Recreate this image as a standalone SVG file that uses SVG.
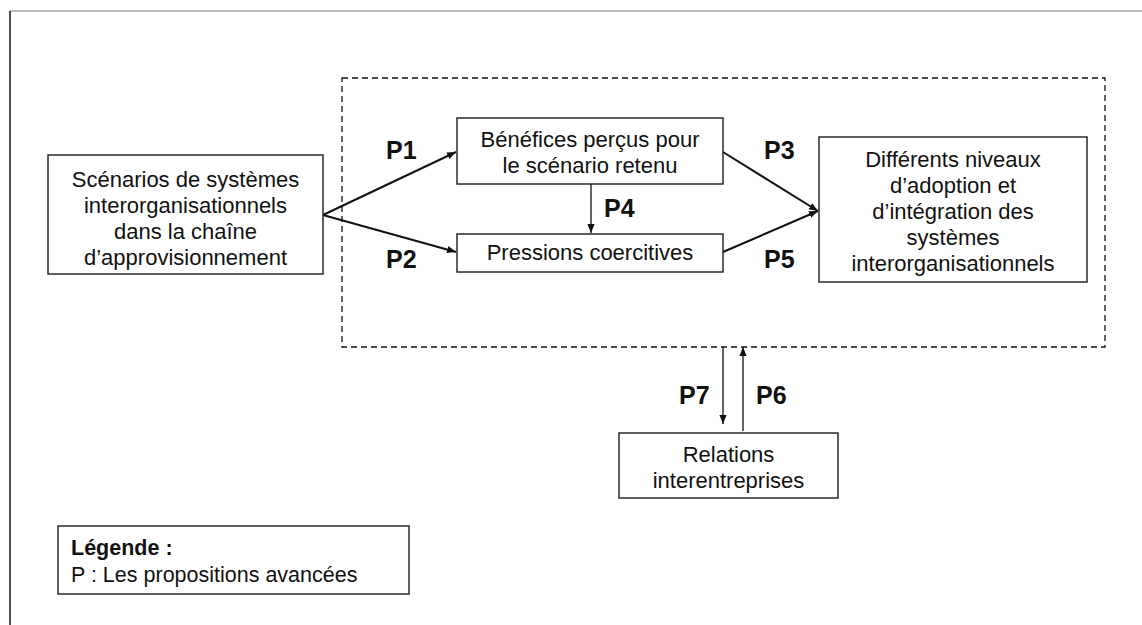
<svg xmlns="http://www.w3.org/2000/svg" width="1142" height="625" viewBox="0 0 1142 625">
  <style>
    .box { fill: #fff; stroke: #1a1a1a; stroke-width: 1.4; }
    .txt { font-family: "Liberation Sans", Arial, sans-serif; font-size: 22px; fill: #111; text-anchor: middle; }
    .lbl { font-family: "Liberation Sans", Arial, sans-serif; font-size: 25px; font-weight: bold; fill: #111; }
    .leg { font-family: "Liberation Sans", Arial, sans-serif; font-size: 21.5px; fill: #111; }
    .thick { stroke: #111; stroke-width: 2; fill: none; }
    .thin { stroke: #111; stroke-width: 1.3; fill: none; }
  </style>
  <defs>
    <marker id="ah" viewBox="0 0 10 10" refX="10" refY="5" markerWidth="9" markerHeight="9" markerUnits="userSpaceOnUse" orient="auto">
      <path d="M0,1 L10,5 L0,9 Z" fill="#111"/>
    </marker>
  </defs>

  <rect width="1142" height="625" fill="#fff"/>

  <!-- page frame -->
  <g id="frame">
    <line x1="10" y1="11" x2="1142" y2="11" stroke="#777" stroke-width="1.2"/>
    <line x1="10" y1="11" x2="10" y2="625" stroke="#222" stroke-width="1.6"/>
  </g>

  <!-- dashed boundary around the core model -->
  <rect id="scope" x="342" y="78" width="763" height="269" fill="none" stroke="#111" stroke-width="1.3" stroke-dasharray="6,4"/>

  <g id="connectors">
    <line class="thick" x1="323" y1="215" x2="456" y2="152" marker-end="url(#ah)"/>
    <line class="thick" x1="323" y1="215" x2="456" y2="252" marker-end="url(#ah)"/>
    <line class="thin" x1="591" y1="184" x2="591" y2="233" marker-end="url(#ah)"/>
    <line class="thick" x1="723" y1="152" x2="818" y2="211" marker-end="url(#ah)"/>
    <line class="thick" x1="723" y1="252" x2="818" y2="211" marker-end="url(#ah)"/>
    <line class="thin" x1="723" y1="347" x2="723" y2="424" marker-end="url(#ah)"/>
    <line class="thin" x1="743" y1="431" x2="743" y2="347" marker-end="url(#ah)"/>
  </g>

  <g id="labels">
    <text class="lbl" x="386" y="159">P1</text>
    <text class="lbl" x="386" y="268">P2</text>
    <text class="lbl" x="764" y="159">P3</text>
    <text class="lbl" x="604" y="217">P4</text>
    <text class="lbl" x="764" y="268">P5</text>
    <text class="lbl" x="756" y="404">P6</text>
    <text class="lbl" x="679" y="404">P7</text>
  </g>

  <g id="scenarios">
    <rect class="box" x="48" y="155" width="275" height="119"/>
    <text class="txt" x="185.5" y="187">Scénarios de systèmes</text>
    <text class="txt" x="185.5" y="213">interorganisationnels</text>
    <text class="txt" x="185.5" y="239">dans la chaîne</text>
    <text class="txt" x="185.5" y="265">d’approvisionnement</text>
  </g>

  <g id="benefices">
    <rect class="box" x="457" y="118" width="266" height="66"/>
    <text class="txt" x="590" y="147">Bénéfices perçus pour</text>
    <text class="txt" x="590" y="173">le scénario retenu</text>
  </g>

  <g id="pressions">
    <rect class="box" x="457" y="234" width="266" height="38"/>
    <text class="txt" x="590" y="260">Pressions coercitives</text>
  </g>

  <g id="niveaux">
    <rect class="box" x="819" y="137" width="268" height="145"/>
    <text class="txt" x="953" y="167">Différents niveaux</text>
    <text class="txt" x="953" y="193">d’adoption et</text>
    <text class="txt" x="953" y="219">d’intégration des</text>
    <text class="txt" x="953" y="245">systèmes</text>
    <text class="txt" x="953" y="271">interorganisationnels</text>
  </g>

  <g id="relations">
    <rect class="box" x="619" y="433" width="219" height="65"/>
    <text class="txt" x="728.5" y="462">Relations</text>
    <text class="txt" x="728.5" y="488">interentreprises</text>
  </g>

  <g id="legende">
    <rect class="box" x="58" y="526" width="351" height="68"/>
    <text class="leg" x="71" y="555" font-weight="bold">Légende :</text>
    <text class="leg" x="71" y="582">P : Les propositions avancées</text>
  </g>
</svg>
